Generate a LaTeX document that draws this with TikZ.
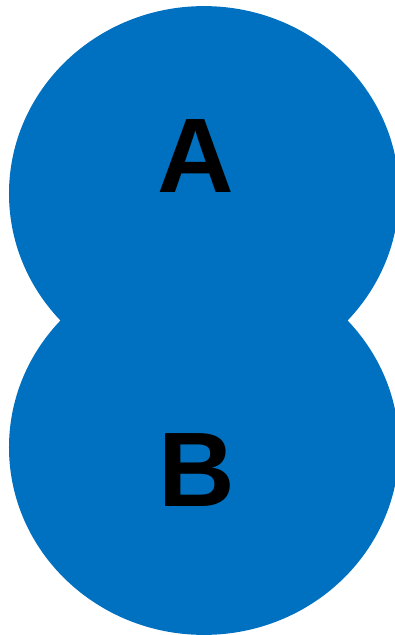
\documentclass[tikz,border=0pt]{standalone}
\usepackage{fontspec}
\setmainfont{Liberation Sans}
\usetikzlibrary{shapes.geometric}
\definecolor{cblue}{RGB}{0,112,192}
\begin{document}
\begin{tikzpicture}[x=1bp,y=-1bp,
  blob/.style={ellipse,fill=cblue,draw=none,minimum width=390bp,minimum height=375bp,inner sep=0pt},
  letter/.style={font=\fontsize{106bp}{106bp}\selectfont\bfseries,inner sep=0pt,anchor=base,text=black}]
\useasboundingbox (0,0) rectangle (394,635);
\node[blob] (cA) at (204,193.6) {};
\node[blob] (cB) at (204,447.4) {};
\node[letter] (lA) at (195.5,192) {A};
\node[letter] (lB) at (197,506) {B};
\end{tikzpicture}
\end{document}
